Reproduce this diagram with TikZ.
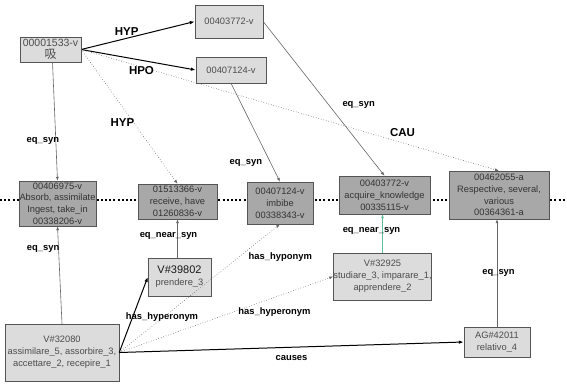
\documentclass[tikz,border=0pt]{standalone}
\usepackage{fontspec}
\setmainfont{Liberation Sans}
\newfontfamily\cjk{Noto Sans CJK SC}
\usepackage{tikz}
\usetikzlibrary{
    calc,
    arrows.meta
}
\definecolor{boxlight}{HTML}{DCDCDC}
\definecolor{boxdark}{HTML}{A8A8A8}
\definecolor{boxline}{HTML}{555555}
\definecolor{linkgray}{HTML}{666666}
\definecolor{linkgreen}{HTML}{5FBF9A}

\begin{document}
\begin{tikzpicture}[
        x=1pt, y=-1pt,
        wn box/.style={draw=boxline, fill=boxdark, inner sep=0pt, align=center,
            text=black!80, font=\fontsize{9.3}{11.8}\selectfont},
        it box/.style={draw=boxline, fill=boxlight, inner sep=0pt, align=center,
            text=black!70, font=\fontsize{9.3}{12.2}\selectfont},
        rel label/.style={font=\bfseries\fontsize{9.4}{10}\selectfont, inner sep=0pt, text=black},
        big label/.style={font=\bfseries\fontsize{11.5}{12}\selectfont, inner sep=0pt, text=black},
        strong link/.style={line width=1pt, -{Latex[length=5pt,width=3.5pt]}},
        eq link/.style={linkgray, line width=0.6pt, -{Latex[length=4pt,width=3pt]}},
        weak link/.style={linkgray, dotted, line width=0.6pt, -{Latex[length=4pt,width=3pt]}}
    ]
    \useasboundingbox (0,0) rectangle (567,383);

    % interlingual index line
    \draw[line width=2pt, dash pattern=on 2pt off 2.2pt] (0,200) -- (567,200);

    % top: chinese wordnet
    \node[it box, minimum width=61pt, minimum height=25pt, font=\fontsize{10.5}{12.5}\selectfont] (zh) at (50.5,49.5)
        {00001533-v\\{\cjk\fontsize{12}{12}\selectfont 吸}};
    \node[it box, minimum width=68pt, minimum height=33pt] (zhhyp) at (229,21.5) {00403772-v};
    \node[it box, minimum width=70pt, minimum height=26pt] (zhhpo) at (231,70) {00407124-v};

    % middle: ili records
    \node[wn box, minimum width=77pt, minimum height=45pt] (ili1) at (57.5,203.5)
        {00406975-v\\Absorb, assimilate\\Ingest, take\_in\\00338206-v};
    \node[wn box, minimum width=79pt, minimum height=35pt] (ili2) at (177.5,201.5)
        {01513366-v\\receive, have\\01260836-v};
    \node[wn box, minimum width=66pt, minimum height=42pt] (ili3) at (280,203)
        {00407124-v\\imbibe\\00338343-v};
    \node[wn box, minimum width=91pt, minimum height=38pt] (ili4) at (384.5,195)
        {00403772-v\\acquire\_knowledge\\00335115-v};
    \node[wn box, minimum width=100pt, minimum height=48pt] (ili5) at (499,195)
        {00462055-a\\Respective, several,\\various\\00364361-a};

    % bottom: italian wordnet
    \node[it box, minimum width=63pt, minimum height=38pt] (prend) at (179.5,277)
        {{\fontsize{11}{12}\selectfont\color{black!90}V\#39802}\\prendere\_3};
    \node[it box, minimum width=114pt, minimum height=57pt] (assim) at (62,352.5)
        {V\#32080\\assimilare\_5, assorbire\_3,\\accettare\_2, recepire\_1};
    \node[it box, minimum width=97pt, minimum height=47pt] (stud) at (382.5,276.5)
        {V\#32925\\studiare\_3, imparare\_1,\\apprendere\_2};
    \node[it box, minimum width=66pt, minimum height=30pt] (relat) at (497,342)
        {AG\#42011\\relativo\_4};

    % chinese relations
    \draw[strong link] (zh.east) -- (zhhyp.west) node[big label, pos=0.4, yshift=6.5pt]{HYP};
    \draw[strong link] (zh.east) -- (zhhpo.west) node[big label, pos=0.526, yshift=-10pt]{HPO};
    \draw[weak link] (zh.east) -- (ili2.north) node[big label, pos=0.543, xshift=-11pt]{HYP};
    \draw[weak link] (zh.east) -- (ili5.north) node[big label, pos=0.769, yshift=10.5pt]{CAU};
    \draw[eq link] ([xshift=2pt]zh.south) -- (ili1.north) node[rel label, pos=0.664, xshift=-13pt]{eq\_syn};
    \draw[eq link] (zhhyp.east) -- (ili4.north) node[rel label, pos=0.54, xshift=30pt]{eq\_syn};
    \draw[eq link] (zhhpo.south) -- (ili3.north) node[rel label, pos=0.813, xshift=-25pt]{eq\_syn};

    % italian relations
    \draw[eq link] (assim.north) -- (ili1.south) node[rel label, pos=0.765, xshift=-15.5pt]{eq\_syn};
    \draw[eq link] (prend.north -| ili2.south) -- (ili2.south) node[rel label, pos=0.564, xshift=-9pt]{eq\_near\_syn};
    \draw[eq link, linkgreen] (stud.north) -- (stud.north |- ili4.south) node[rel label, pos=0.577, xshift=-11pt]{eq\_near\_syn};
    \draw[eq link] (relat.north) -- (relat.north |- ili5.south) node[rel label, pos=0.5, xshift=1.5pt]{eq\_syn};
    \draw[strong link] (assim.east) -- (prend.west) node[rel label, pos=0.47, xshift=29.4pt]{has\_hyperonym};
    \draw[weak link] (assim.east) -- (ili3.south) node[rel label, pos=0.747, xshift=41pt]{has\_hyponym};
    \draw[weak link] (assim.east) -- (stud.west) node[rel label, pos=0.7256, yshift=-15pt]{has\_hyperonym};
    \draw[strong link] (assim.east) -- (relat.west) node[rel label, pos=0.5, yshift=-11pt]{causes};

\end{tikzpicture}
\end{document}
